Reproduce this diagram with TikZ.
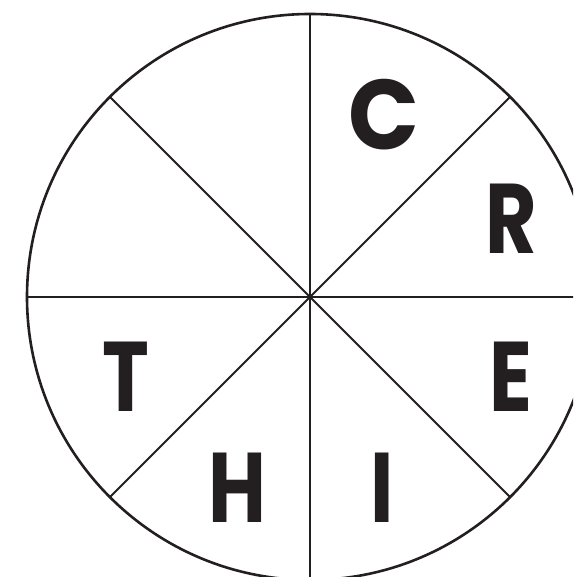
\documentclass[tikz,border=0pt]{standalone}
\usepackage{fontspec}
\setmainfont{Poppins}[BoldFont={Poppins Bold}]
\definecolor{ink}{HTML}{231F20}
\newcommand{\narrowltr}[2][0.8]{\scalebox{#1}[1]{#2}}
\begin{document}
\begin{tikzpicture}[x=1pt,y=-1pt,
  ltr/.style={anchor=base,inner sep=0pt,text=ink,font=\fontsize{99}{99}\selectfont\bfseries},
  rule/.style={draw=ink,line width=2pt}]
\useasboundingbox (0,0) rectangle (573,577);
\begin{scope}
\clip (0,0) rectangle (573,577);
\coordinate (o) at (310,297);
\draw[rule,line width=2.6pt] (o) circle[radius=283];
\draw[rule] (310,14) -- (o) -- (310,580);
\draw[rule] (27,297) -- (o) -- (593,297);
\draw[rule] (o) ++(-200,-200) coordinate (ul) (ul) -- (o) -- (510,497) coordinate (lr);
\draw[rule] (o) ++(200,-200) coordinate (ur) (ur) -- (o) -- (110,497) coordinate (ll);
\end{scope}
\node[ltr] (c) at (384,150) {\narrowltr[0.94]{C}};
\node[ltr] (r) at (511,253) {\narrowltr{R}};
\node[ltr] (e) at (511,411) {\narrowltr{E}};
\node[ltr] (i) at (382.5,522) {\narrowltr{I}};
\node[ltr] (h) at (237,522) {\narrowltr{H}};
\node[ltr] (t) at (125.5,411) {\narrowltr{T}};
\end{tikzpicture}
\end{document}
